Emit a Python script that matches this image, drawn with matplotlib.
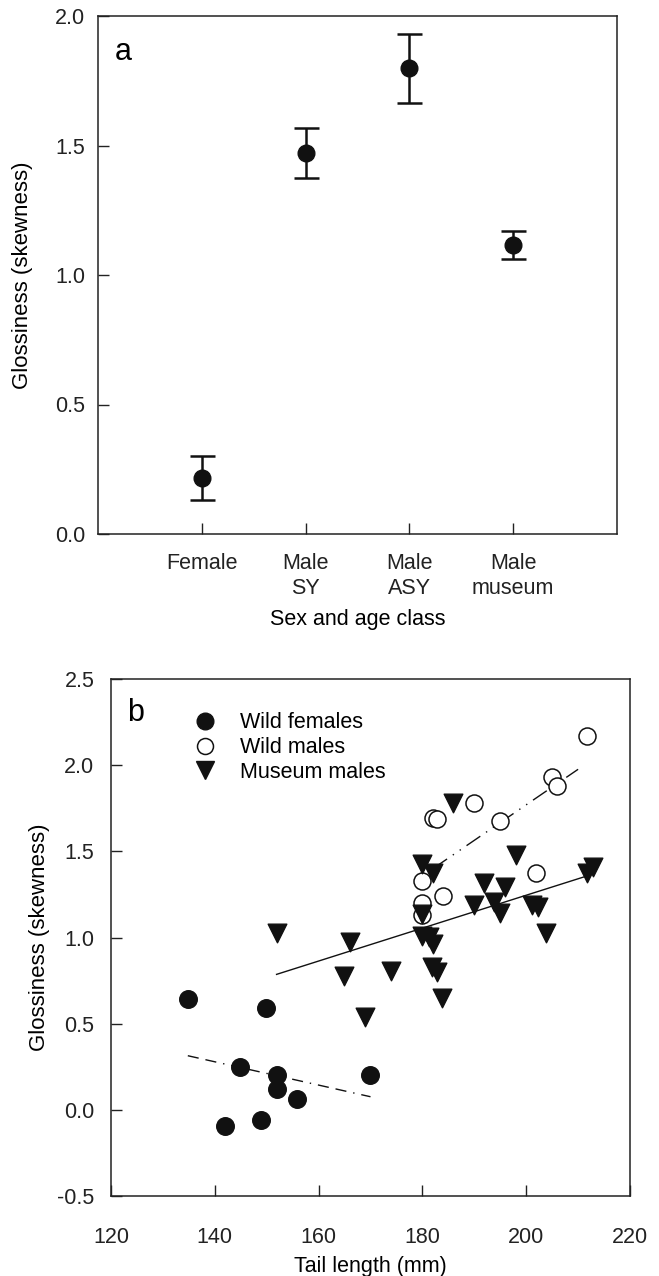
import matplotlib
matplotlib.use("Agg")
import matplotlib.pyplot as plt
from matplotlib.lines import Line2D

plt.rcParams["font.family"] = ["Liberation Sans", "DejaVu Sans"]

# panel a: mean glossiness by sex/age class, +/- SE
classes = ["Female", "Male\nSY", "Male\nASY", "Male\nmuseum"]
class_means = [0.217, 1.470, 1.798, 1.116]
class_se = [0.085, 0.097, 0.134, 0.055]

# panel b: glossiness vs tail length
fem_x = [134.8, 149.9, 144.9, 151.9, 151.9, 155.9, 169.9, 148.9, 141.9]
fem_y = [0.643, 0.589, 0.250, 0.202, 0.119, 0.062, 0.202, -0.060, -0.094]

wm_x = [211.8, 204.9, 205.9, 190.0, 182.1, 182.9, 194.9, 180.0, 201.9, 183.9, 180.0, 180.0]
wm_y = [2.169, 1.929, 1.879, 1.779, 1.692, 1.686, 1.676, 1.328, 1.372, 1.242, 1.202, 1.130]

mus_x = [151.9, 166.0, 164.9, 173.9, 168.9, 185.8, 198.0, 179.9, 182.0, 212.9, 211.8,
         191.9, 195.9, 189.9, 193.8, 194.9, 201.1, 202.3, 179.9, 203.8, 179.9, 181.3,
         182.1, 181.8, 182.8, 183.8]
mus_y = [1.024, 0.975, 0.776, 0.807, 0.540, 1.782, 1.479, 1.426, 1.372, 1.411, 1.372,
         1.318, 1.295, 1.188, 1.207, 1.144, 1.188, 1.178, 1.136, 1.028, 1.008, 1.004,
         0.962, 0.830, 0.800, 0.650]

# fitted regression lines (end points)
fit_fem_x = [134.8, 170.0]
fit_fem_y = [0.314, 0.076]
fit_wm_x = [182.1, 210.0]
fit_wm_y = [1.401, 1.976]
fit_mus_x = [151.9, 211.7]
fit_mus_y = [0.786, 1.357]

fig = plt.figure(figsize=(6.59, 12.76), dpi=100)
ax1 = fig.add_axes([98 / 659, 1 - 534 / 1276, 519 / 659, 518 / 1276])
ax2 = fig.add_axes([111 / 659, 1 - 1196 / 1276, 519 / 659, 517 / 1276])

for ax in (ax1, ax2):
    for s in ax.spines.values():
        s.set_linewidth(1.1)
        s.set_color("#222222")
    ax.tick_params(direction="in", length=8, width=1.0, labelsize=15.5,
                   top=False, right=False, colors="#222222")

# ---- panel a
pos = list(range(1, len(classes) + 1))
ax1.errorbar(pos, class_means, yerr=class_se, fmt="o", color="#111111",
             ms=12, elinewidth=1.8, capsize=9, capthick=1.8)
ax1.set_xlim(0, 5)
ax1.set_ylim(0, 2.0)
ax1.set_xticks(pos)
ax1.set_xticklabels(classes, linespacing=1.25)
ax1.set_yticks([0, 0.5, 1.0, 1.5, 2.0])
ax1.set_yticklabels(["0.0", "0.5", "1.0", "1.5", "2.0"])
ax1.tick_params(axis="x", pad=14)
ax1.tick_params(axis="y", pad=9)
ax1.set_xlabel("Sex and age class", fontsize=15.5, labelpad=7)
ax1.set_ylabel("Glossiness (skewness)", fontsize=16, labelpad=16)
ax1.text(0.033, 0.93, "a", transform=ax1.transAxes, fontsize=22, va="center")

# ---- panel b
ax2.scatter(fem_x, fem_y, s=160, marker="o", color="#111111", zorder=3)
ax2.scatter(wm_x, wm_y, s=150, marker="o", facecolor="white",
            edgecolor="#111111", linewidth=1.1, zorder=3)
ax2.scatter(mus_x, mus_y, s=180, marker="v", color="#111111", zorder=4)

ax2.plot(fit_fem_x, fit_fem_y, color="#111111", lw=1.0, ls=(0, (8, 5, 8, 5, 1, 5)))
ax2.plot(fit_wm_x, fit_wm_y, color="#111111", lw=1.0, ls=(0, (12, 5, 1, 5, 1, 5)))
ax2.plot(fit_mus_x, fit_mus_y, color="#111111", lw=1.0)

ax2.set_xlim(120, 220)
ax2.set_ylim(-0.5, 2.5)
ax2.set_xticks([120, 140, 160, 180, 200, 220])
ax2.set_yticks([-0.5, 0, 0.5, 1.0, 1.5, 2.0, 2.5])
ax2.set_yticklabels(["-0.5", "0.0", "0.5", "1.0", "1.5", "2.0", "2.5"])
ax2.tick_params(axis="x", pad=22)
ax2.tick_params(axis="y", pad=12)
ax2.set_xlabel("Tail length (mm)", fontsize=15.5, labelpad=6)
ax2.set_ylabel("Glossiness (skewness)", fontsize=16, labelpad=5)
ax2.text(0.031, 0.935, "b", transform=ax2.transAxes, fontsize=22, va="center")

handles = [
    Line2D([], [], ls="none", marker="o", ms=12, color="#111111"),
    Line2D([], [], ls="none", marker="o", ms=11.5, mfc="white", mec="#111111", mew=1.1),
    Line2D([], [], ls="none", marker="v", ms=13, color="#111111"),
]
ax2.legend(handles, ["Wild females", "Wild males", "Museum males"],
           loc="upper left", bbox_to_anchor=(0.118, 0.965), frameon=False,
           fontsize=15.5, handletextpad=0.85, labelspacing=0.18, borderaxespad=0.3,
           handlelength=1.6)

fig.savefig("out.png", dpi=100)
